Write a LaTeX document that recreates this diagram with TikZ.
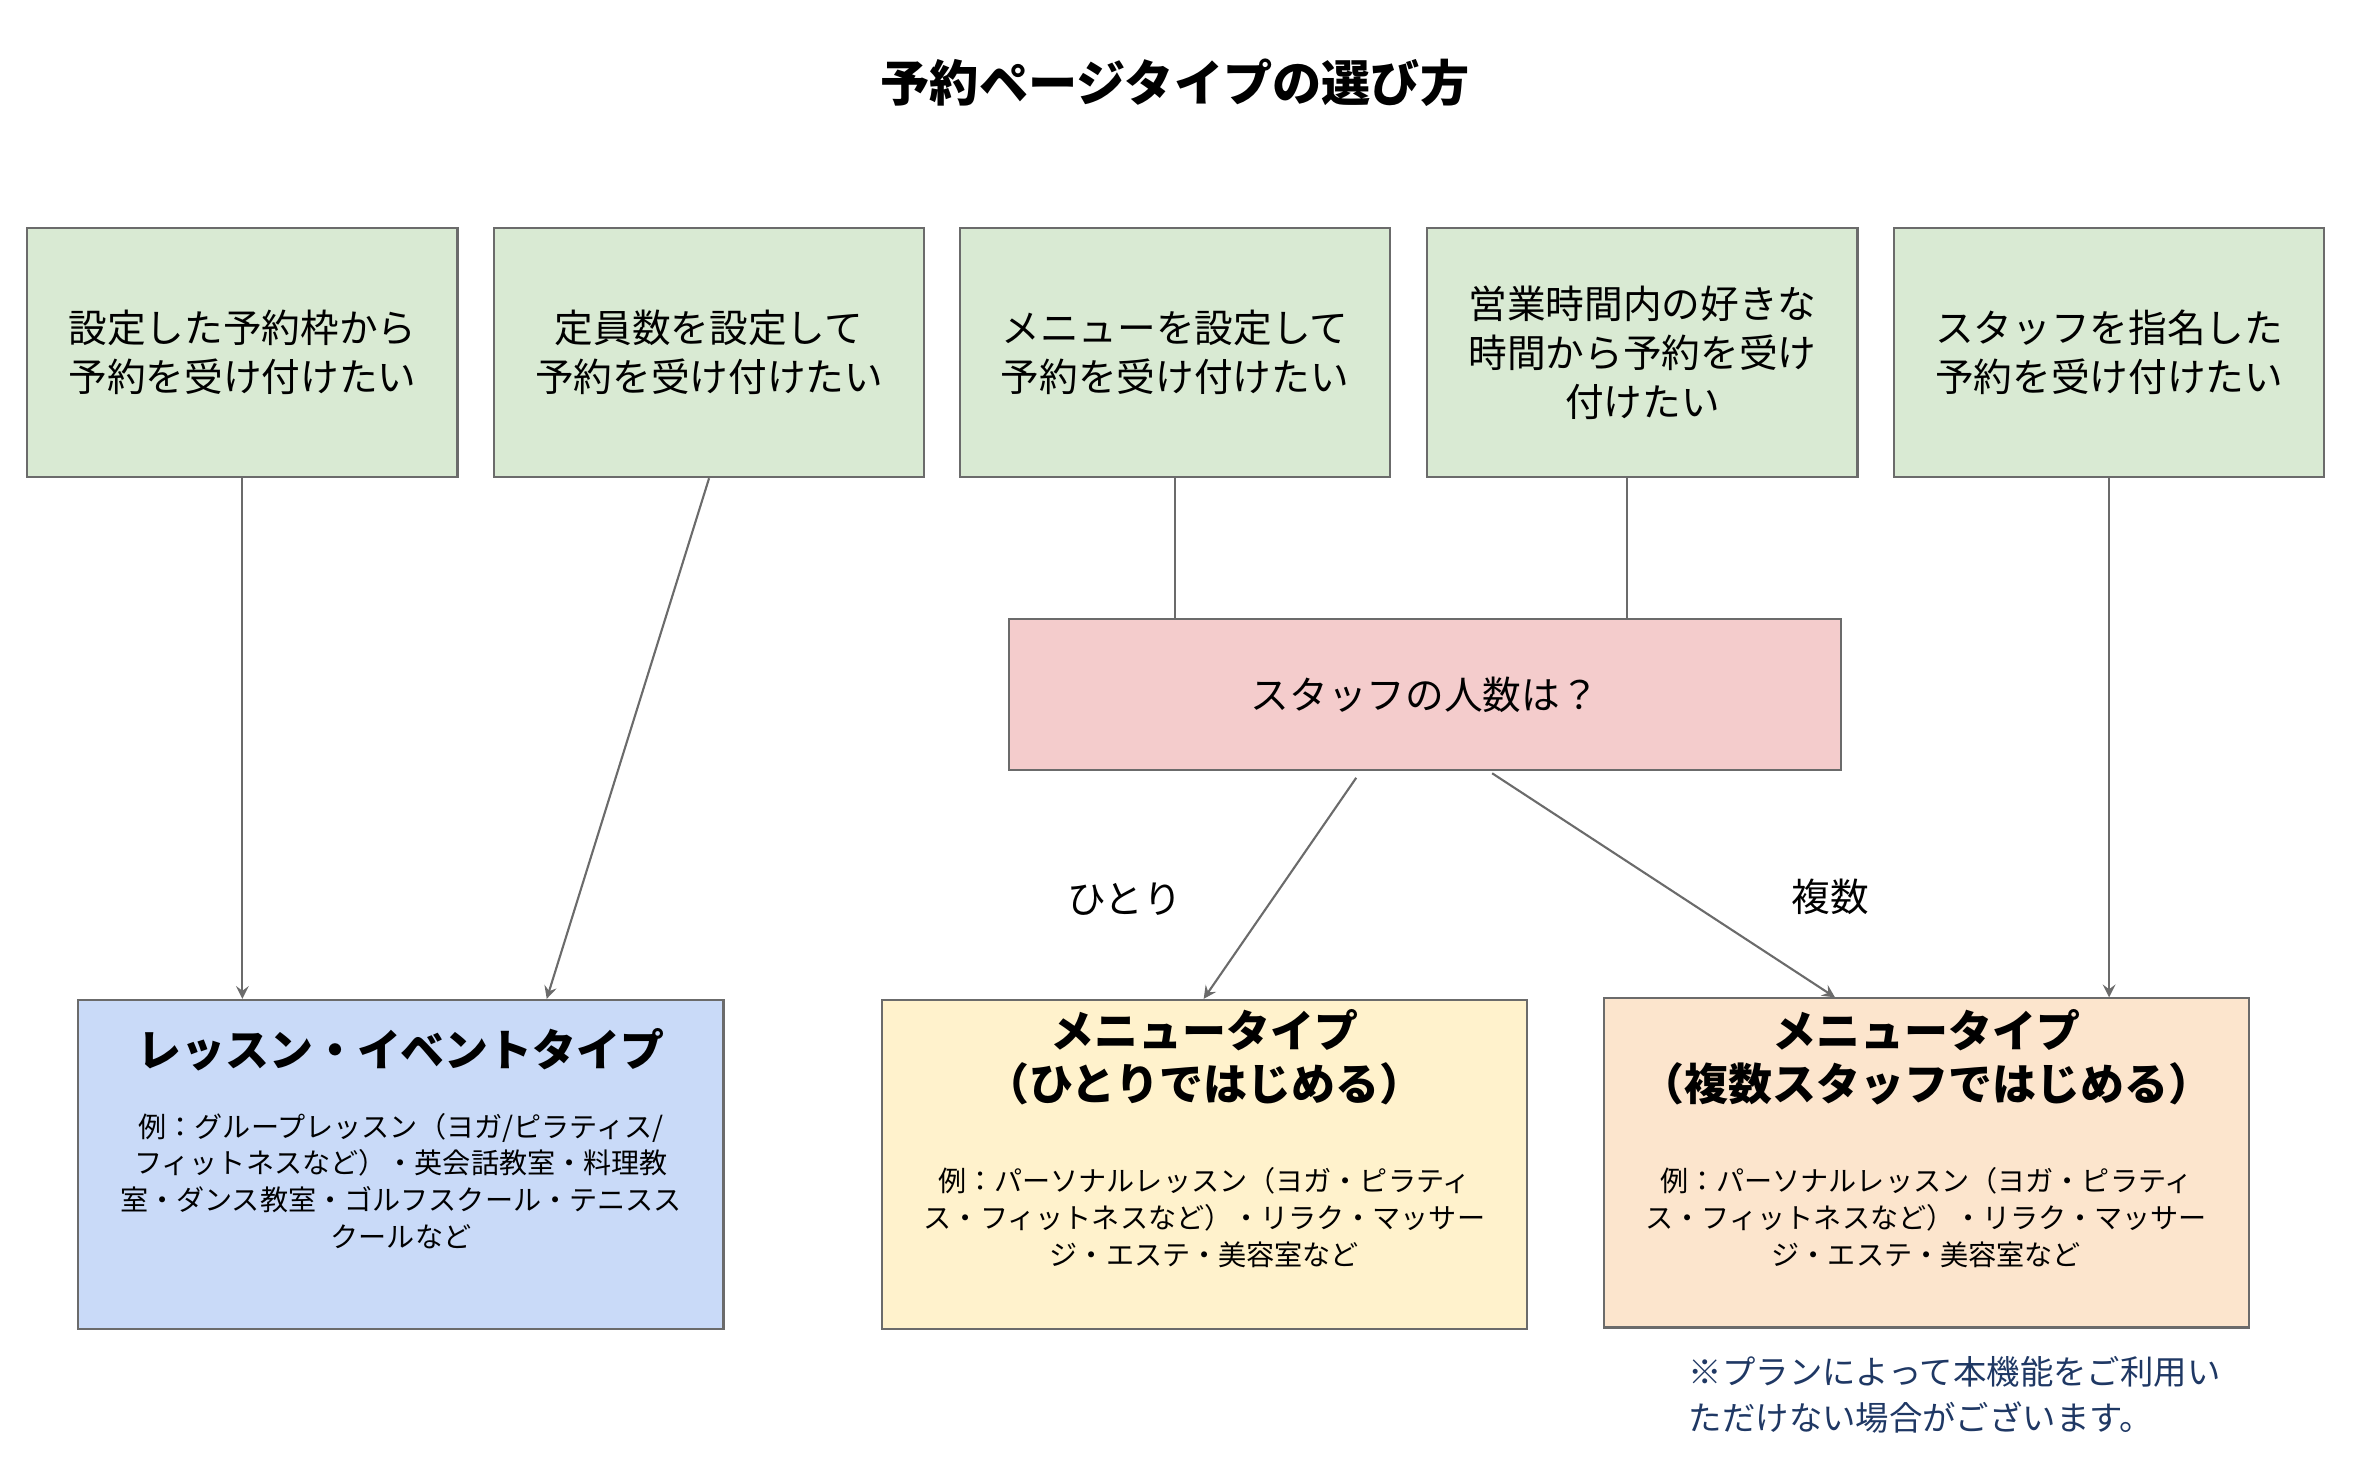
\documentclass[tikz,border=0pt]{standalone}
\usepackage{fontspec}
\setmainfont{Noto Sans CJK JP}
\usetikzlibrary{calc}
\definecolor{boxgreen}{HTML}{D9EAD3}
\definecolor{boxpink}{HTML}{F4CCCC}
\definecolor{boxblue}{HTML}{C9DAF8}
\definecolor{boxyellow}{HTML}{FFF2CC}
\definecolor{boxorange}{HTML}{FCE5CD}
\definecolor{edgegray}{HTML}{6B6B6B}
\definecolor{notenavy}{HTML}{1F3864}
\begin{document}
\begin{tikzpicture}[x=0.151mm,y=-0.151mm,
  box/.style={draw=edgegray,line width=0.6pt,align=center,inner sep=0pt,font=\fontsize{11pt}{14pt}\selectfont},
  need/.style={box,fill=boxgreen,minimum width=4.3cm,minimum height=2.49cm},
  result/.style={draw=edgegray,line width=0.6pt,fill=#1,minimum width=6.45cm,minimum height=3.29cm},
  arr/.style={->,>=stealth,edgegray,line width=0.6pt}]

\useasboundingbox (0,0) rectangle (1560,977);

%title
\node[font=\fontsize{14pt}{17pt}\selectfont\bfseries] (title) at (778,55) {予約ページタイプの選び方};

%top row
\node[need] (b1) at (160.5,233.5) {設定した予約枠から\\予約を受け付けたい};
\node[need] (b2) at (469.5,233.5) {定員数を設定して\\予約を受け付けたい};
\node[need] (b3) at (778,233.5) {メニューを設定して\\予約を受け付けたい};
\node[need] (b4) at (1087.5,233.5) {営業時間内の好きな\\時間から予約を受け\\付けたい};
\node[need] (b5) at (1396.5,233.5) {スタッフを指名した\\予約を受け付けたい};

%question
\node[box,fill=boxpink,minimum width=8.32cm,minimum height=1.51cm] (staff) at (943.5,460) {スタッフの人数は？};

%results
\node[result=boxblue] (lesson) at (265.5,771) {};
\node[result=boxyellow] (single) at (797.5,771) {};
\node[result=boxorange] (multi) at (1275.5,770) {};

\node[font=\fontsize{12.5pt}{15pt}\selectfont\bfseries,align=center] (lessonT) at (265.5,695) {レッスン・イベントタイプ};
\node[font=\fontsize{8pt}{10.5pt}\selectfont,align=center,text width=5.9cm] (lessonD) at (265.5,782) {例：グループレッスン（ヨガ/ピラティス/\\フィットネスなど）・英会話教室・料理教\\室・ダンス教室・ゴルフスクール・テニスス\\クールなど};
\node[font=\fontsize{12.5pt}{15pt}\selectfont\bfseries,align=center] (singleT) at (797.5,700) {メニュータイプ\\（ひとりではじめる）};
\node[font=\fontsize{8pt}{10.5pt}\selectfont,align=center,text width=5.9cm] (singleD) at (797.5,806) {例：パーソナルレッスン（ヨガ・ピラティ\\ス・フィットネスなど）・リラク・マッサー\\ジ・エステ・美容室など};
\node[font=\fontsize{12.5pt}{15pt}\selectfont\bfseries,align=center] (multiT) at (1275.5,700) {メニュータイプ\\（複数スタッフではじめる）};
\node[font=\fontsize{8pt}{10.5pt}\selectfont,align=center,text width=5.9cm] (multiD) at (1275.5,806) {例：パーソナルレッスン（ヨガ・ピラティ\\ス・フィットネスなど）・リラク・マッサー\\ジ・エステ・美容室など};

%note
\node[font=\fontsize{9.5pt}{13pt}\selectfont,text=notenavy,align=left,anchor=north west] (note) at (1110,890) {※プランによって本機能をご利用い\\ただけない場合がございます。};

%connectors
\coordinate (s1) at (898,515);
\coordinate (s2) at (988,512);
\coordinate (t2) at (362,0);
\coordinate (t4) at (1077,0);
\coordinate (t5) at (797,0);
\coordinate (t6) at (1215,0);
\draw[arr] (b1.south) -- (b1.south |- lesson.north);
\draw[arr] (b2.south) -- (t2 |- lesson.north);
\draw[edgegray,line width=0.6pt] (b3.south) -- (b3.south |- staff.north);
\draw[edgegray,line width=0.6pt] (t4 |- b4.south) -- (t4 |- staff.north);
\draw[arr] (s1) -- (t5 |- single.north) node[pos=0.55,left=22pt,black,font=\fontsize{11pt}{14pt}\selectfont] {ひとり};
\draw[arr] (s2) -- (t6 |- multi.north) node[pos=0.55,right=28pt,black,font=\fontsize{11pt}{14pt}\selectfont] {複数};
\draw[arr] (b5.south) -- (b5.south |- multi.north);

\end{tikzpicture}
\end{document}
